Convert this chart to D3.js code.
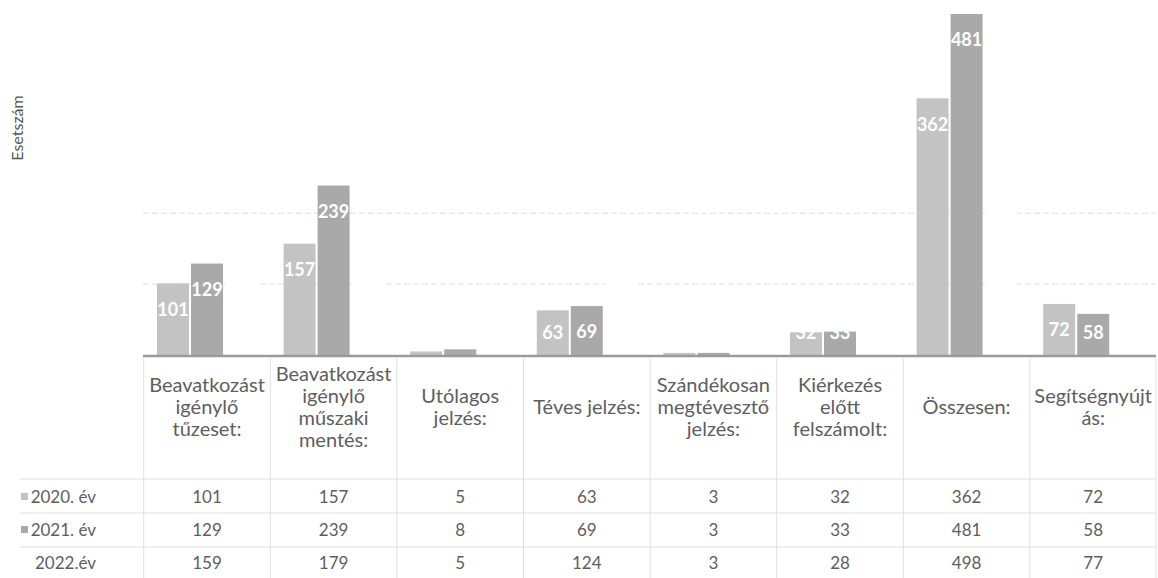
<!DOCTYPE html>
<html>
<head>
<meta charset="utf-8">
<script src="https://cdn.jsdelivr.net/npm/d3@7"></script>
<style>
  html, body { margin: 0; padding: 0; background: #ffffff; }
  svg { display: block; }
  text { font-family: Lato, "Noto Sans", sans-serif; }
</style>
</head>
<body>
<svg id="chart" width="1158" height="578"></svg>
<script>
// ---- data ----
const categories = [
  "Beavatkozást\nigénylő\ntűzeset:",
  "Beavatkozást\nigénylő\nműszaki\nmentés:",
  "Utólagos\njelzés:",
  "Téves jelzés:",
  "Szándékosan\nmegtévesztő\njelzés:",
  "Kiérkezés\nelőtt\nfelszámolt:",
  "Összesen:",
  "Segítségnyújt\nás:"
];
const seriesNames = ["2020. év", "2021. év", "2022.év"];
const values2020 = [101, 157, 5, 63, 3, 32, 362, 72];
const values2021 = [129, 239, 8, 69, 3, 33, 481, 58];
const values2022 = [159, 179, 5, 124, 3, 28, 498, 77];
const gridTicks = [100, 200];
const yTitle = "Esetszám";

const seriesValues = [values2020, values2021, values2022];
const seriesFill = ["#c3c3c3", "#a9a9a9", "#ffffff"];
const keyFill = ["#c3c3c3", "#a9a9a9", null];

const svg = d3.select("#chart");

const x0 = d3.scaleBand().domain(d3.range(categories.length))
  .range([143.7, 1156.5]).paddingInner(0.21).paddingOuter(0.105);
const x1 = d3.scaleBand().domain(d3.range(seriesNames.length))
  .range([0, x0.bandwidth()]).paddingInner(0.06);
const y = d3.scaleLinear().domain([0, 500]).range([355, 0.5]);

// gridlines
svg.append("g").selectAll("line").data(gridTicks).join("line")
  .attr("x1", 143).attr("x2", 1156)
  .attr("y1", d => y(d)).attr("y2", d => y(d))
  .attr("stroke", "#dedede").attr("stroke-width", 1)
  .attr("stroke-dasharray", "6,3");

// bars
const groups = svg.append("g").selectAll("g").data(categories).join("g")
  .attr("transform", (d, i) => `translate(${x0(i)},0)`);

groups.each(function(c, ci) {
  const g = d3.select(this);
  seriesValues.forEach((vals, si) => {
    const v = vals[ci];
    g.append("rect")
      .attr("x", x1(si)).attr("width", x1.bandwidth())
      .attr("y", y(v)).attr("height", y(0) - y(v))
      .attr("fill", seriesFill[si]);
  });
});

// data labels (2020, 2021 visible series)
groups.each(function(c, ci) {
  const g = d3.select(this);
  [0, 1].forEach(si => {
    const v = seriesValues[si][ci];
    const ly = Math.min(y(v) + 26, y(0) - 22);
    g.append("text")
      .attr("x", x1(si) + x1.bandwidth() / 2)
      .attr("y", ly)
      .attr("dy", "0.35em")
      .attr("text-anchor", "middle")
      .attr("fill", "#ffffff")
      .attr("font-weight", "bold")
      .attr("font-size", 18)
      .text(v);
  });
});

// axis baseline
const xAxis = d3.axisBottom(x0).tickSize(0).tickFormat("");
svg.append("g").attr("transform", `translate(0,${y(0) + 1})`).call(xAxis)
  .call(g => g.select(".domain").attr("stroke", "#9a9a9a").attr("stroke-width", 2.5)
    .attr("d", `M143,0H1156`));

// y axis title
svg.append("text")
  .attr("transform", "translate(23,128) rotate(-90)")
  .attr("text-anchor", "middle")
  .attr("fill", "#555")
  .attr("font-size", 16)
  .text(yTitle);

// ---- data table ----
const tableRight = 1156;
const headerTop = 357;
const rowY = [497, 530, 563];
const rowLines = [479, 513, 547];
const tableBottom = 578;
const gridColor = "#e0e0e0";

const tbl = svg.append("g");
// vertical lines
const boundaries = d3.range(categories.length).map(i => x0(i) - x0.step() * x0.paddingInner() / 2)
  .concat([tableRight]);
tbl.selectAll("line.v").data(boundaries).join("line")
  .attr("class", "v")
  .attr("x1", d => d).attr("x2", d => d)
  .attr("y1", headerTop).attr("y2", tableBottom)
  .attr("stroke", gridColor).attr("stroke-width", 1);
// horizontal lines
tbl.selectAll("line.h").data(rowLines).join("line")
  .attr("class", "h")
  .attr("x1", 20).attr("x2", tableRight)
  .attr("y1", d => d).attr("y2", d => d)
  .attr("stroke", gridColor).attr("stroke-width", 1);

// header labels
const lineH = 22;
const headerMid = 407;
categories.forEach((c, i) => {
  const lines = c.split("\n");
  const cx = x0(i) + x0.bandwidth() / 2;
  const t = tbl.append("text")
    .attr("text-anchor", "middle")
    .attr("fill", "#5e5e5e")
    .attr("font-size", 20);
  lines.forEach((ln, k) => {
    t.append("tspan")
      .attr("x", cx)
      .attr("y", headerMid + (k - (lines.length - 1) / 2) * lineH)
      .attr("dy", "0.35em")
      .text(ln);
  });
});

// row labels + values
seriesNames.forEach((name, si) => {
  if (keyFill[si]) {
    tbl.append("rect")
      .attr("x", 21).attr("y", rowY[si] - 4).attr("width", 7).attr("height", 7)
      .attr("fill", keyFill[si]);
  }
  tbl.append("text")
    .attr("x", 96).attr("y", rowY[si]).attr("dy", "0.35em")
    .attr("text-anchor", "end")
    .attr("fill", "#5e5e5e").attr("font-size", 17)
    .text(name);
  seriesValues[si].forEach((v, ci) => {
    tbl.append("text")
      .attr("x", x0(ci) + x0.bandwidth() / 2)
      .attr("y", rowY[si]).attr("dy", "0.35em")
      .attr("text-anchor", "middle")
      .attr("fill", "#5e5e5e").attr("font-size", 17)
      .text(v);
  });
});
</script>
</body>
</html>
